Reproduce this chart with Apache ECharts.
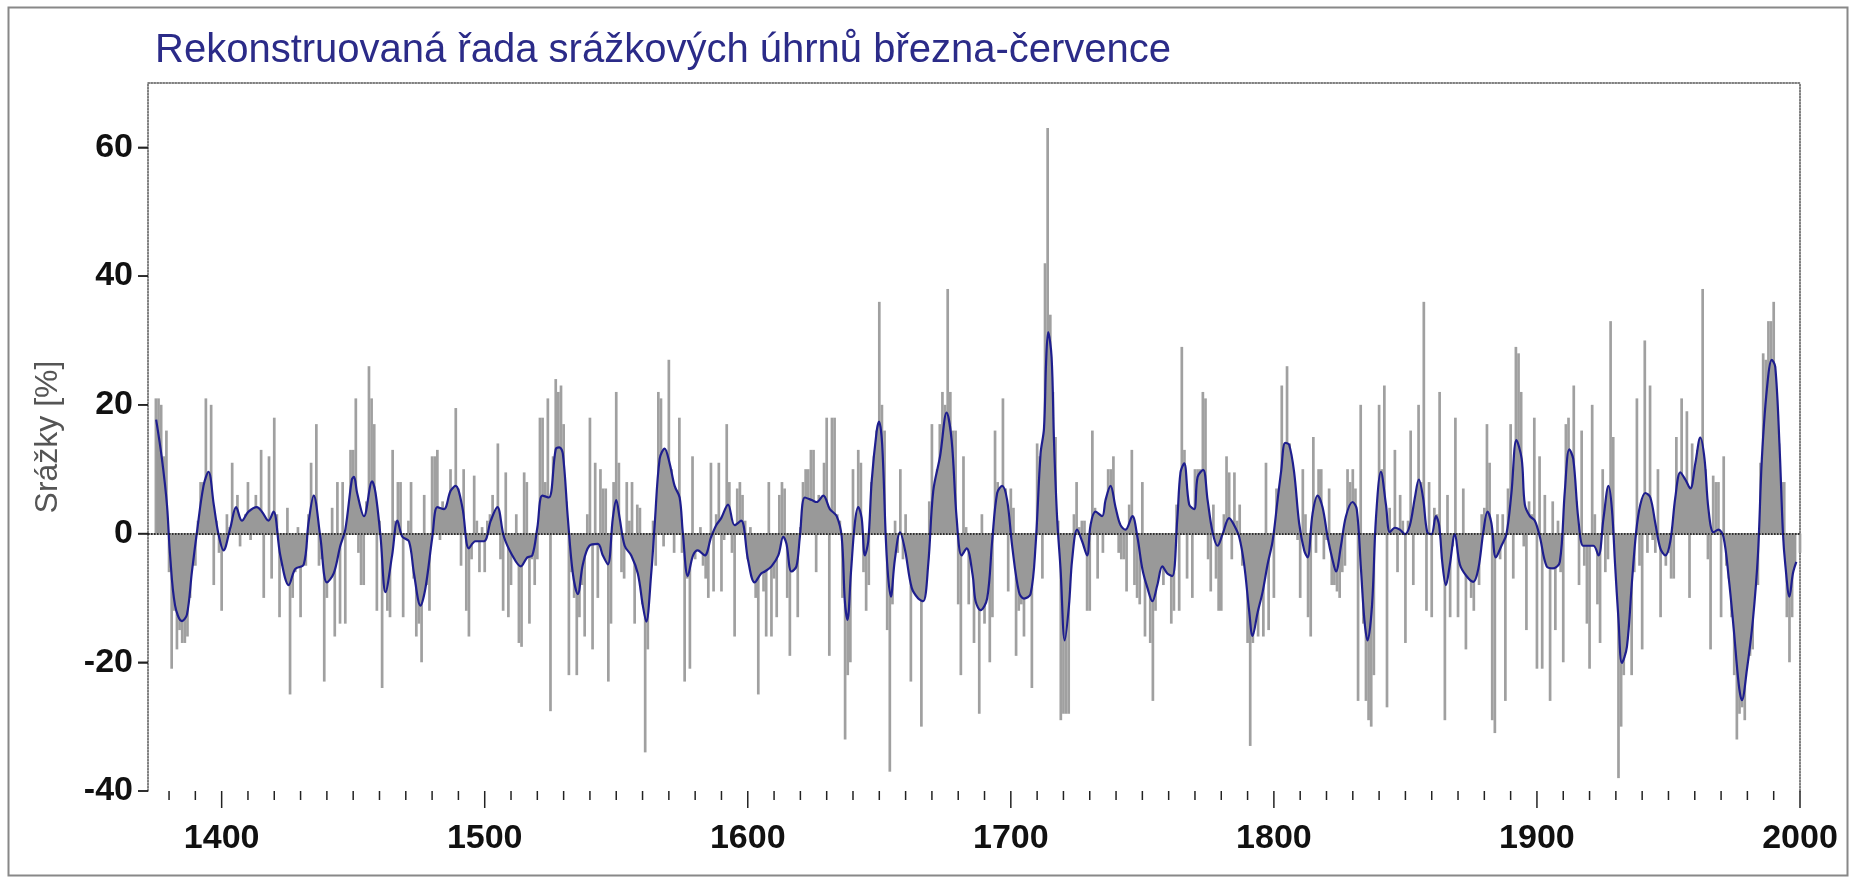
<!DOCTYPE html>
<html>
<head>
<meta charset="utf-8">
<script src="https://cdn.jsdelivr.net/npm/echarts@6/dist/echarts.min.js"></script>
<style>
html,body{margin:0;padding:0;background:#fff;}
#chart{width:1851px;height:879px;}
</style>
</head>
<body>
<div id="chart"></div>
<script>
const TITLE = 'Rekonstruovaná řada srážkových úhrnů března-července';
const Y_NAME = 'Srážky [%]';
const START_YEAR = 1375;
// yearly reconstructed precipitation anomalies (%) 1375..2000
const precipitation = [
  21, 21, 20, 12, 16,
  -6, -21, -12, -18, -15, -17, -17, -16, -10, -5,
  -5, 2, 8, 8, 21, 9, 20, -8, 2, -3,
  -12, -1, 3, 1, 11, 3, 6, -2, 1, 3,
  8, -1, 3, 6, 2, 13, -10, 2, 12, -7,
  18, 3, -13, -5, -3, 4, -25, -10, -6, 1,
  -13, -5, -5, 3, 11, 6, 17, -5, -4, -23,
  -10, -7, 4, -16, 8, -14, 8, -14, 2, 13,
  13, 21, -3, -8, -8, 5, 26, 21, 17, -12,
  2, -24, -9, -12, -13, 13, 2, 8, 8, -13,
  0, 2, 8, -7, -16, -14, -20, 6, -8, -12,
  12, 12, 13, -1, 5, 2, 4, 10, 7, 19.5,
  7, -5, 10, -12, -16, -4, 9, 2, -6, 1,
  -6, 2, 3, 6, 2, 14, -4, -12, 9.5, -13,
  -8, -2, 3, -17, -17.6, 9.5, 8, -14, -4, -8,
  -4, 18, 18, 8, 21, -27.6, 12, 24, 22, 23,
  17, 5, -22, -6, -10, -22, -13, -8, -16, 3,
  18, -18, 11, -10, 10, 7, 7, -23, -14, 8,
  22, 11, -6, -7, 8, 2, 8, -14, 4.5, 4,
  -11, -34, -18, -4, 2, -5, 22, 21, -2, 13,
  27, 10, -3, 2, 18, -3, -23, -7, -21, 12,
  -4, -2, 1, -5, -7, -10, 11, -9, 3, 11,
  -9, -1, 17, 8, -3, -16, 7, 8, 6, 2,
  -4, 1, -4, -10, -25, -5, -9, -16, 8, -16,
  -7, -13, 6, 8, 7, -10, -19, -6, -4, -13,
  1, 8, 10, 10, 13, 13, -6, 6, 5, 11,
  18, -19, 18, 18, 3, 2, -10, -32, -22, -20,
  10, 2, 13, 11, -6, -12, -8, 8, 12, 16,
  36, 20, 16, -15, -37, -11, 2, -3, 10, -4,
  3, -1, -23, -6, -8, -6, -30, -8, -2, 5,
  17, 6, 10, 17, 22, 20, 38, 22, 16, 16,
  -11, -22, 12, 1, -11, -4, -17, -6, -28, 3,
  -14, -1, -20, -13, 16, 8, 2, 21, 7, -9,
  7, 4, -19, -12, -11, -16, -10, -6, -24, -3,
  14, 12, -7, 42, 63, 34, 22, 15, 2, -29,
  -28, -28, -28, -3, 3, 8, 1, 2, 2, -12,
  -12, 16, 4, -7, 1, -3, 3, 10, 10, 12,
  3, -3, -4, -4, -9, 4.5, 13, -8, -10, -11,
  8, -16, -8, -17, -26, -12, -4, -5, -8, -4,
  -6, -14, -12, 4.5, -12, 29, 13, -7, 3, -10,
  10, 10, 10, 22, 21, -4, -9, 4.5, -7, -12,
  -12, 3, 12, 9.5, -4, 9.5, 2, 4.5, -5, -3,
  -17, -33, -17, -6, -16, -10, -16, 11, -15, -2,
  -10, 7, 3, 23, 8, 26, 14, 7, 7, -1,
  -10, 10, 3, -13, -16, 15, -3, 10, 10, -4,
  -1, 7, -8, -8, -9, -10, -6, -5, 10, 8,
  10, 7, -26, 20, -14, -26, -29, -30, -22, 0,
  20, 10, 23, -27, 4, 0, 13, -6, 6, 2,
  -17, 2, 16, -8, 5, 20, 8, 36, -12, 8,
  -13, 4, 3, 22, -4, -29, 6, -13, -2, 18,
  -13, -5, 7, -18, -6, -10, -12, -5, -8, 3,
  4, 17, 11, -29, -31, 3, -4, 3, -26, 7,
  17, -7, 29, 28, 22, -2, -15, 5, 3, 18,
  -21, 12, -21, 6, -4, -26, 5, -15, 2, -6,
  -20, 17, 18, 8, 23, 5, -8, 16, -5, -14,
  -21, 20, 3, -11, -17, 10, -6, -4, 33, 15,
  -5, -38, -30, -22, -13, -12, -22, -6, 21, -5,
  -18, 30, -3, 23, -1, -3, 10, -13, -3, -5,
  -3, -7, -7, 15, 5, 21, 7, 19, -10, 14,
  2, 13, 4, 38, 10, -4, -18, 9, 8, 8,
  -13, 12, -5, -7, -13, -22, -32, -28, -27, -29,
  -20, -19, -18, -8, -8, 11, 28, 27, 33, 33,
  36, 21, 14, 8, 8, -13, -20, -13, -5, 0,
  -3
];
// smoothed (low-pass filtered) series
const smoothYears = [
  1375.1,1377.3,1379.2,1380.4,1382.3,1384.9,1386.8,1388.7,1390.6,1393.1,1395.0,1397.0,1398.8,1400.7,1403.3,1405.5,1407.7,1410.2,1413.4,1415.3,1417.8,1419.7,1422.3,1425.5,1428.0,1431.2,1433.0,1435.0,1437.5,1440.0,1442.6,1445.1,1447.0,1449.5,
  1450.3,1451.5,1454.1,1457.2,1458.5,1460.4,1462.3,1464.8,1466.8,1468.7,1471.2,1473.1,1475.6,1477.5,1480.1,1482.0,1484.5,1487.0,1488.9,1491.5,1494.0,1496.5,1499.7,1502.3,1504.8,1507.3,1510.5,1513.7,1516.2,1518.1,1520.0,1521.9,1524.4,1527.0,
  1528.4,1529.7,1531.6,1533.5,1535.4,1537.3,1539.8,1543.0,1544.9,1546.8,1548.7,1550.0,1551.3,1553.2,1555.7,1558.2,1560.1,1561.4,1563.3,1564.6,1566.5,1568.4,1570.3,1572.2,1574.1,1575.3,1577.2,1579.2,1581.0,1583.6,1586.1,1588.0,1589.9,1592.5,1595.0,1597.5,1600.1,1602.6,1605.1,
  1606.5,1609.0,1611.6,1613.5,1614.7,1616.6,1618.5,1619.8,1621.7,1624.3,1626.2,1628.7,1631.2,1633.8,1635.7,1636.9,1637.9,1639.2,1640.7,1642.0,1643.3,1644.5,1645.8,1647.1,1649.0,1649.9,1651.1,1652.8,1654.4,1655.9,1657.9,1659.8,1662.3,1664.8,1666.7,1668.6,1670.5,1673.1,1675.6,1677.5,1679.4,1681.3,1683.2,
  1685.5,1686.6,1688.5,1691.0,1692.9,1694.8,1696.7,1698.6,1700.5,1703.1,1705.0,1707.5,1709.4,1711.3,1712.6,1713.4,1714.2,1715.5,1716.4,1717.6,1718.9,1720.5,1722.1,1723.3,1725.2,1727.1,1729.0,1730.3,1732.2,1734.7,1736.0,1737.9,1739.8,1741.7,1743.6,1746.2,1748.1,1750.0,1751.9,1753.8,1755.7,1757.6,1759.5,1761.4,1763.3,1764.5,
  1765.9,1767.8,1769.7,1771.0,1773.1,1774.8,1776.7,1778.6,1780.5,1783.0,1784.9,1786.8,1788.7,1790.6,1791.9,1793.8,1795.7,1797.6,1799.5,1801.4,1802.7,1804.3,1805.8,1807.7,1809.6,1811.5,1812.8,1814.7,1816.6,1818.5,1820.4,1822.3,1823.6,1825.5,1827.4,1829.9,1831.5,1833.1,1834.4,1835.6,1837.3,1838.8,1840.7,
  1842.6,1844.1,1846.0,1847.9,1849.8,1851.7,1853.6,1855.1,1856.7,1858.3,1859.9,1861.6,1862.8,1864.1,1865.4,1866.9,1868.8,1870.7,1873.2,1875.8,1877.7,1879.6,1881.2,1882.7,1884.4,1886.5,1888.4,1890.3,1892.2,1894.2,1895.4,1897.3,1899.2,1901.1,1903.7,1906.2,1908.7,1910.6,1912.3,1913.8,1915.7,1917.6,1919.5,
  1921.5,1923.4,1925.3,1927.2,1928.5,1929.7,1931.0,1932.3,1934.2,1936.1,1937.7,1939.3,1941.2,1943.1,1945.0,1946.9,1948.8,1950.7,1952.6,1954.5,1956.4,1958.3,1960.2,1962.1,1963.7,1965.2,1967.1,1969.0,1970.9,1972.9,1974.8,1976.7,1977.9,1979.8,1982.1,1984.0,1985.5,1987.4,1989.3,1990.6,1992.2,1993.5,1994.4,1996.0,1997.3,1998.6
];
const smoothValues = [
  17.7,11.6,4.5,-3.4,-11.2,-13.6,-12.6,-5.9,0.2,7.4,9.6,4.5,-0.1,-2.6,0.9,4.1,2.0,3.4,4.1,3.4,2.0,3.4,-3.4,-8.0,-5.5,-4.8,1.6,5.9,-0.5,-7.6,-6.2,-1.9,0.6,8.4,
  8.8,6.3,2.7,8.1,6.3,-0.5,-9.1,-3.4,2.0,-0.5,-1.2,-6.2,-11.2,-8.4,-0.5,4.1,3.8,6.6,7.4,4.1,-2.3,-1.2,-1.2,2.0,4.1,-0.5,-3.4,-5.1,-3.7,-3.4,0.9,5.9,5.6,13.1,
  13.4,12.4,2.4,-6.2,-9.4,-4.8,-1.9,-1.6,-3.4,-4.8,2.4,5.2,2.4,-1.9,-3.4,-6.2,-11.2,-13.7,-6.2,1.3,11.6,13.2,10.9,7.4,5.6,0.2,-6.6,-3.4,-2.6,-3.4,-0.5,1.3,2.4,4.5,1.3,2.0,-4.1,-7.6,-6.2,
  -5.9,-5.1,-3.4,-0.5,-1.6,-5.9,-5.1,-0.5,5.6,5.2,4.9,5.9,3.8,2.7,-0.5,-10.5,-13.4,-6.2,1.6,4.1,2.4,-3.4,-1.2,8.1,15.9,17.4,13.8,-3.4,-9.8,-4.1,0.2,-2.6,-8.4,-10.1,-10.5,-4.8,6.6,12.0,18.8,14.5,2.4,-3.4,-2.3,
  -6.5,-10.5,-11.9,-10.1,-1.2,6.3,7.4,5.2,-1.9,-9.1,-10.1,-9.4,-1.9,12.4,16.3,26.6,31.3,27.4,14.5,2.4,-5.5,-16.6,-11.2,-4.1,0.6,-1.2,-3.4,1.3,3.4,2.7,5.2,7.4,4.1,1.3,0.6,2.7,-0.5,-5.5,-8.4,-10.5,-8.0,-5.1,-6.2,-6.6,2.4,9.5,
  10.9,4.5,3.8,8.8,9.9,5.2,0.2,-1.9,-0.1,2.4,1.3,-0.5,-4.8,-12.0,-15.9,-12.3,-9.1,-4.8,-1.2,5.2,9.5,14.1,13.8,9.5,1.6,-2.6,-3.7,3.1,5.9,4.1,-0.5,-4.1,-5.9,-1.9,2.7,4.9,3.8,-5.5,-13.4,-16.6,-11.2,2.4,9.6,
  4.5,0.2,0.9,0.6,-0.1,1.3,5.6,8.4,5.6,0.2,-0.1,2.7,1.3,-4.8,-8.0,-4.8,-0.1,-4.8,-6.6,-7.5,-5.5,0.2,3.4,1.6,-3.7,-1.9,-0.1,6.3,14.5,11.6,4.5,2.7,2.0,-0.5,-5.1,-5.4,-4.4,6.6,13.1,11.6,2.4,-1.9,-1.9,
  -1.9,-3.4,2.4,7.4,3.8,-4.8,-13.4,-20.1,-17.6,-7.6,0.2,4.5,6.3,5.6,1.6,-2.3,-3.4,-1.2,5.6,9.5,8.4,7.0,10.9,14.9,11.6,3.8,0.2,0.6,-0.5,-6.9,-14.8,-23.4,-25.9,-21.2,-13.4,-3.4,11.6,22.4,27.0,25.9,13.8,0.2,-4.8,-9.8,-6.2,-4.4
];
const AXIS_FIRST_YEAR = 1372, AXIS_LAST_YEAR = 2000;
const Y_MIN = -40, Y_MAX = 70, Y_STEP = 20;

const axisYears = [];
for (let y = AXIS_FIRST_YEAR; y <= AXIS_LAST_YEAR; y++) axisYears.push(String(y));
const decadeYears = [];
for (let y = 1380; y <= AXIS_LAST_YEAR; y += 10) decadeYears.push([y]);
const valueTicks = [];
for (let v = Y_MIN; v < Y_MAX; v += Y_STEP) valueTicks.push([v]);

const barData = precipitation.map((v, i) => [START_YEAR + i, v]);
const smoothData = smoothYears.map((y, i) => [y, smoothValues[i]]);

const FONT = 'Liberation Sans, Arial, Helvetica, sans-serif';
const AXIS_LINE = {show: true, lineStyle: {color: '#555', type: 'dotted', width: 1.5}};

const chart = echarts.init(document.getElementById('chart'), null, {renderer: 'canvas'});
chart.setOption({
  animation: false,
  backgroundColor: '#ffffff',
  title: {
    text: TITLE, left: 150, top: 26,
    textStyle: {color: '#2b2b88', fontSize: 40, fontWeight: 'normal', fontFamily: FONT}
  },
  graphic: [{
    type: 'rect', left: 6, top: 5, silent: true,
    shape: {width: 1839, height: 868},
    style: {fill: 'none', stroke: '#888', lineWidth: 2}
  }],
  grid: {left: 148, right: 51, top: 83, bottom: 88, containLabel: false},
  xAxis: [
    { // data axis
      type: 'value', position: 'bottom', min: AXIS_FIRST_YEAR, max: AXIS_LAST_YEAR,
      axisLine: AXIS_LINE, axisTick: {show: false}, axisLabel: {show: false}, splitLine: {show: false}
    },
    { // century labels
      type: 'category', position: 'bottom', data: axisYears, boundaryGap: false,
      axisLine: {show: false}, axisTick: {show: false},
      axisLabel: {show: true, interval: (i, v) => (+v) % 100 === 0,
                  fontSize: 34, fontWeight: 'bold', color: '#111', margin: 31, fontFamily: FONT},
      splitLine: {show: false}
    },
    { // top frame
      type: 'value', position: 'top', min: AXIS_FIRST_YEAR, max: AXIS_LAST_YEAR,
      axisLine: AXIS_LINE, axisTick: {show: false}, axisLabel: {show: false}, splitLine: {show: false}
    }
  ],
  yAxis: [
    {
      type: 'value', min: Y_MIN, max: Y_MAX, interval: Y_STEP,
      axisLine: AXIS_LINE,
      axisTick: {show: true, length: 10, lineStyle: {color: '#222', width: 1.5}},
      axisLabel: {showMaxLabel: false, fontSize: 34, fontWeight: 'bold', color: '#111', margin: 15, fontFamily: FONT},
      splitLine: {show: false},
      name: Y_NAME, nameLocation: 'middle', nameGap: 84, nameRotate: 90,
      nameTextStyle: {fontSize: 32, color: '#555', fontFamily: FONT}
    },
    {
      type: 'value', position: 'right', min: Y_MIN, max: Y_MAX,
      axisLine: AXIS_LINE, axisTick: {show: false}, axisLabel: {show: false}, splitLine: {show: false}
    }
  ],
  series: [
    {
      type: 'bar', xAxisIndex: 0, yAxisIndex: 0,
      data: barData, barWidth: 2.7, z: 2,
      itemStyle: {color: '#a0a0a0'}
    },
    {
      type: 'line', xAxisIndex: 0, yAxisIndex: 0,
      data: smoothData, smooth: 0.35, showSymbol: false, z: 3,
      lineStyle: {color: '#1e1e8e', width: 2.2},
      areaStyle: {color: '#999999', opacity: 1, origin: 0},
      markLine: {
        silent: true, symbol: ['none', 'none'], label: {show: false},
        lineStyle: {color: '#111', type: 'dotted', width: 1.5},
        data: [{yAxis: 0}]
      }
    },
    { // decade ticks (longer at centuries), positioned by the x scale
      type: 'custom', xAxisIndex: 0, yAxisIndex: 0, data: decadeYears,
      clip: false, silent: true, z: 6,
      renderItem: (params, api) => {
        const year = api.value(0);
        const p = api.coord([year, Y_MIN]);
        const len = year % 100 === 0 ? 17 : 9;
        return {type: 'line', shape: {x1: p[0], y1: p[1], x2: p[0], y2: p[1] + len},
                style: {stroke: '#222', lineWidth: 1.5}};
      }
    },
    { // value ticks left of the y axis
      type: 'custom', xAxisIndex: 0, yAxisIndex: 0, data: valueTicks,
      clip: false, silent: true, z: 6,
      renderItem: (params, api) => {
        const p = api.coord([AXIS_FIRST_YEAR, api.value(0)]);
        return {type: 'line', shape: {x1: p[0] - 10, y1: p[1], x2: p[0], y2: p[1]},
                style: {stroke: '#222', lineWidth: 1.5}};
      }
    }
  ]
});
</script>
</body>
</html>
